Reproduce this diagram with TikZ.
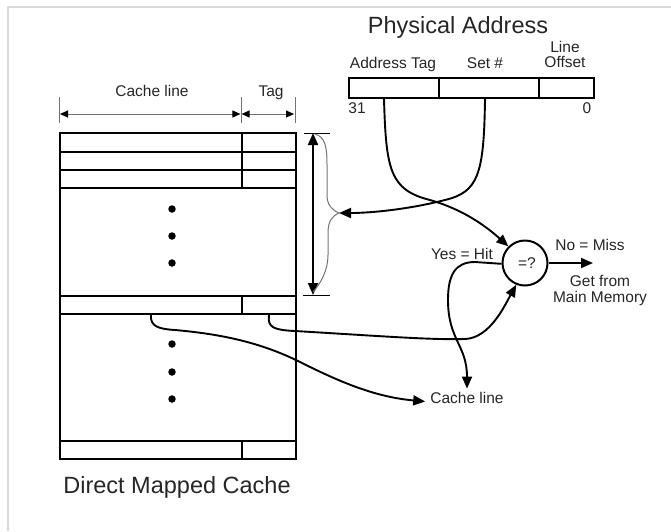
\documentclass[tikz,border=0pt]{standalone}
\usepackage{fontspec}
\setmainfont{Liberation Sans}
\usetikzlibrary{arrows.meta}
\begin{document}
\begin{tikzpicture}[x=1pt,y=-1pt,
  lbl/.style={font=\fontsize{15.5}{17}\selectfont, text=black!85, inner sep=0pt, anchor=base},
  big/.style={font=\fontsize{23.5}{26}\selectfont, text=black!85, inner sep=0pt, anchor=base},
  cell/.style={draw, line width=2pt, inner sep=0pt, anchor=north west},
  wire/.style={line width=1.9pt},
  tip/.style={-{Triangle[length=12pt,width=10pt]}},
  dim/.style={draw=black!55, line width=1pt},
  dimtip/.style={{Triangle[length=8pt,width=7pt,color=black]}-{Triangle[length=8pt,width=7pt,color=black]}},
  dotn/.style={circle, fill, inner sep=0pt, minimum size=7.5pt},
]
\useasboundingbox (0,0) rectangle (671,531);
\draw[black!15, line width=2pt] (671,7) -- (8,7) -- (8,531);

% ---- cache ----
\node[cell, minimum width=182pt, minimum height=19pt] (r1l) at (59,132) {};
\node[cell, minimum width=54pt,  minimum height=19pt] (r1t) at (241,132) {};
\node[cell, minimum width=182pt, minimum height=18pt] (r2l) at (59,151) {};
\node[cell, minimum width=54pt,  minimum height=18pt] (r2t) at (241,151) {};
\node[cell, minimum width=182pt, minimum height=18pt] (r3l) at (59,169) {};
\node[cell, minimum width=54pt,  minimum height=18pt] (r3t) at (241,169) {};
\node[cell, minimum width=236pt, minimum height=108pt] (gap1) at (59,187) {};
\node[cell, minimum width=182pt, minimum height=18pt] (rkl) at (59,295) {};
\node[cell, minimum width=54pt,  minimum height=18pt] (rkt) at (241,295) {};
\node[cell, minimum width=236pt, minimum height=127pt] (gap2) at (59,313) {};
\node[cell, minimum width=182pt, minimum height=18pt] (rnl) at (59,440) {};
\node[cell, minimum width=54pt,  minimum height=18pt] (rnt) at (241,440) {};

\foreach \n/\y in {d1/209,d2/236,d3/263,d4/344,d5/372,d6/399}
  \node[dotn] (\n) at (172,\y) {};

\node[big] (dmc) at (177,493) {Direct Mapped Cache};

% ---- dimension lines ----
\coordinate (t1a) at (59,97);  \coordinate (t1b) at (59,123);
\coordinate (t2a) at (241,97); \coordinate (t2b) at (241,123);
\coordinate (t3a) at (295,97); \coordinate (t3b) at (295,123);
\draw[dim] (t1a) -- (t1b);
\draw[dim] (t2a) -- (t2b);
\draw[dim] (t3a) -- (t3b);
\coordinate (d1a) at (60,114); \coordinate (d1b) at (241,114); \coordinate (d1c) at (294,114);
\draw[dim, dimtip] (d1a) -- ([xshift=-0.6pt]d1b);
\draw[dim, dimtip] ([xshift=0.6pt]d1b) -- (d1c);
\node[lbl] (lcl) at (152,96) {Cache line};
\node[lbl] (ltag) at (271,96) {Tag};

% ---- vertical extent arrow ----
\coordinate (vt) at (313,133); \coordinate (vb) at (313,295);
\coordinate (vtl) at (304,133); \coordinate (vtr) at (330,133);
\coordinate (vbl) at (303,295); \coordinate (vbr) at (330,295);
\draw[line width=1pt] (vtl) -- (vtr);
\draw[line width=1pt] (vbl) -- (vbr);
\draw[line width=1.9pt, {Triangle[length=12pt,width=10pt]}-{Triangle[length=12pt,width=10pt]}] (vt) -- (vb);

% brace
\coordinate (bp) at (339,213);
\draw[black!55, line width=1pt] (315,134) .. controls (325,137) and (327,146) .. (327,165) -- (327,195)
  .. controls (327,205) and (332,210) .. (bp)
  .. controls (332,216) and (328,221) .. (328,233) -- (328,255)
  .. controls (328,270) and (321,283) .. (313,292);

% ---- physical address ----
\node[big] (pa) at (458,33) {Physical Address};
\node[cell, minimum width=90pt,  minimum height=20pt] (ptag) at (348,77) {};
\node[cell, minimum width=100pt, minimum height=20pt] (pset) at (438,77) {};
\node[cell, minimum width=55pt,  minimum height=20pt] (poff) at (538,77) {};
\node[lbl] (lat) at (393,68) {Address Tag};
\node[lbl] (lset) at (485,68) {Set \#};
\node[lbl] (lline) at (565,52) {Line};
\node[lbl] (lofs) at (565,67) {Offset};
\node[lbl] (l31) at (357,113) {31};
\node[lbl] (l0) at (587,113) {0};

% ---- comparator ----
\node[draw, circle, line width=2pt, minimum size=45pt, inner sep=0pt] (cmp) at (525,263) {};
\node[lbl] (eq) at (527,268) {=?};
\node[lbl] (miss) at (590,250) {No = Miss};
\coordinate (missend) at (593,263);
\node[lbl] (get) at (600,286) {Get from};
\node[lbl] (mm) at (600,302) {Main Memory};
\node[lbl] (hit) at (462,259) {Yes = Hit};
\node[lbl] (cl) at (467,403) {Cache line};

% ---- wires ----
\draw[wire, tip] ([xshift=-10pt]ptag.south) .. controls (386,170) and (390,190) .. (430,200)
  .. controls (465,210) and (488,228) .. (cmp.135);
\draw[wire, tip] ([xshift=-4pt]pset.south) .. controls (484,175) and (478,192) .. (445,200)
  .. controls (410,209) and (372,213) .. (bp);
\draw[wire, tip] (cmp.east) -- (missend);
\draw[wire, tip] (cmp.182) -- (475,262) .. controls (455,262) and (448,275) .. (448,300)
  .. controls (448,340) and (467,345) .. ([yshift=3pt]cl.north);
\draw[wire, tip] (rkt.south) .. controls (267,328) and (275,330) .. (295,331)
  .. controls (380,336) and (430,340) .. (465,339)
  .. controls (490,338) and (505,305) .. (cmp.-112);
\draw[wire, tip] (rkl.south) .. controls (150,326) and (158,329) .. (175,330)
  .. controls (220,334) and (260,342) .. (300,362)
  .. controls (340,382) and (375,397) .. ([xshift=-5pt,yshift=-4pt]cl.west);
\end{tikzpicture}
\end{document}
